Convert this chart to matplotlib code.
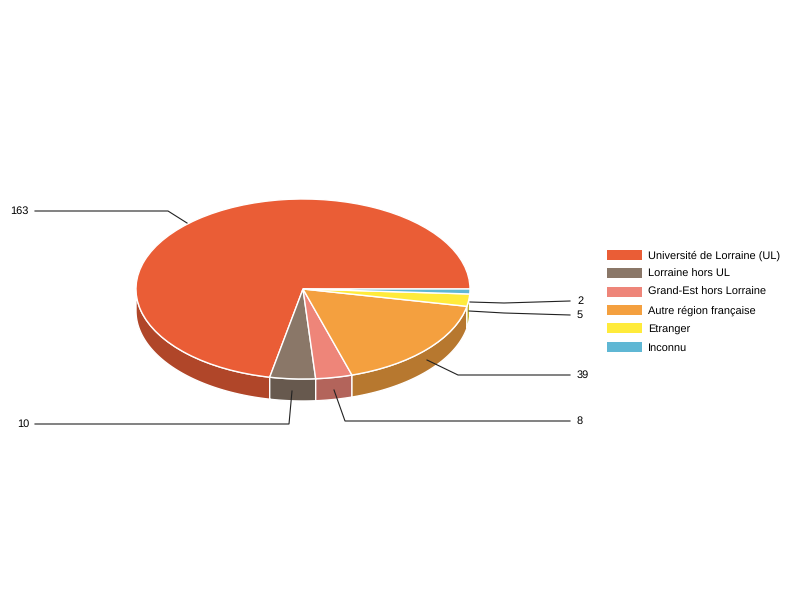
import numpy as np
import matplotlib
matplotlib.use("Agg")
import matplotlib.pyplot as plt
from matplotlib.patches import Patch

plt.rcParams['font.family'] = ['Liberation Sans', 'DejaVu Sans']
plt.rcParams['text.hinting'] = 'no_hinting'
plt.rcParams['text.hinting_factor'] = 1

categories = ["Université de Lorraine (UL)", "Lorraine hors UL", "Grand-Est hors Lorraine",
              "Autre région française", "Etranger", "Inconnu"]
values = [163, 10, 8, 39, 5, 2]
colors = ["#EA5D36", "#8A7768", "#EE8579", "#F4A03F", "#FFEB3B", "#5FB7D4"]
side_colors = ["#B04629", "#67594E", "#B3645B", "#B7782F", "#BFB02C", "#47899F"]

# leader paths in figure pixels
leaders = [
    [(35, 211), (168, 211), (187, 223)],
    [(35, 424), (289, 424), (292, 391)],
    [(570, 421), (345, 421), (334, 390)],
    [(570, 375), (458, 375), (427, 360)],
    [(570, 315), (504, 313), (469, 311)],
    [(570, 301), (504, 303), (470, 302)],
]
label_pos = [(29, 211), (29, 424), (577, 421), (577, 375), (577, 315), (577, 301)]
label_ha = ["right", "right", "left", "left", "left", "left"]

CX, CY, RX, RY, DEPTH = 303, 289, 167, 90, 22

fig = plt.figure(figsize=(8, 6), dpi=100)
ax = fig.add_axes([0, 0, 1, 1])

px = lambda x, y: ((x - CX) / RX, (CY - y) / RY)
d = DEPTH / RY

# side walls
edges = np.cumsum([0] + values) / sum(values) * 360
for a0, a1, c in zip(edges[:-1], edges[1:], side_colors):
    lo, hi = max(a0, 180), min(a1, 360)
    if hi <= lo:
        continue
    t = np.radians(np.linspace(lo, hi, 80))
    xs = np.r_[np.cos(t), np.cos(t[::-1])]
    ys = np.r_[np.sin(t), np.sin(t[::-1]) - d]
    ax.fill(xs, ys, facecolor=c, edgecolor="white", linewidth=1, zorder=1)

# top face
wedges, _ = ax.pie(values, colors=colors, startangle=0, counterclock=True, radius=1,
                   wedgeprops=dict(edgecolor="white", linewidth=1, zorder=2))
for w in wedges:
    w.set_zorder(2)

ax.set_aspect("auto")
ax.set_xlim(-CX / RX, (800 - CX) / RX)
ax.set_ylim((CY - 600) / RY, CY / RY)
ax.axis("off")

for path, lp, ha, v in zip(leaders, label_pos, label_ha, values):
    pts = np.array([px(*p) for p in path])
    ax.plot(pts[:, 0], pts[:, 1], color="#222222", linewidth=0.8, zorder=3, solid_joinstyle="miter")
    tx, ty = px(*lp)
    ax.text(tx, ty, str(v), ha=ha, va="center", fontsize=7.9, color="black", zorder=4)

handles = [Patch(facecolor=c, edgecolor="none", label=l) for c, l in zip(colors, categories)]
ax.legend(handles=handles, loc="upper left", bbox_to_anchor=(607 / 800, 1 - 250 / 600),
          frameon=False, fontsize=7.9, borderpad=0, borderaxespad=0, handlelength=3.2,
          handleheight=1.0, handletextpad=0.55, labelspacing=0.675)

fig.savefig("out.png", dpi=100, facecolor="white")
